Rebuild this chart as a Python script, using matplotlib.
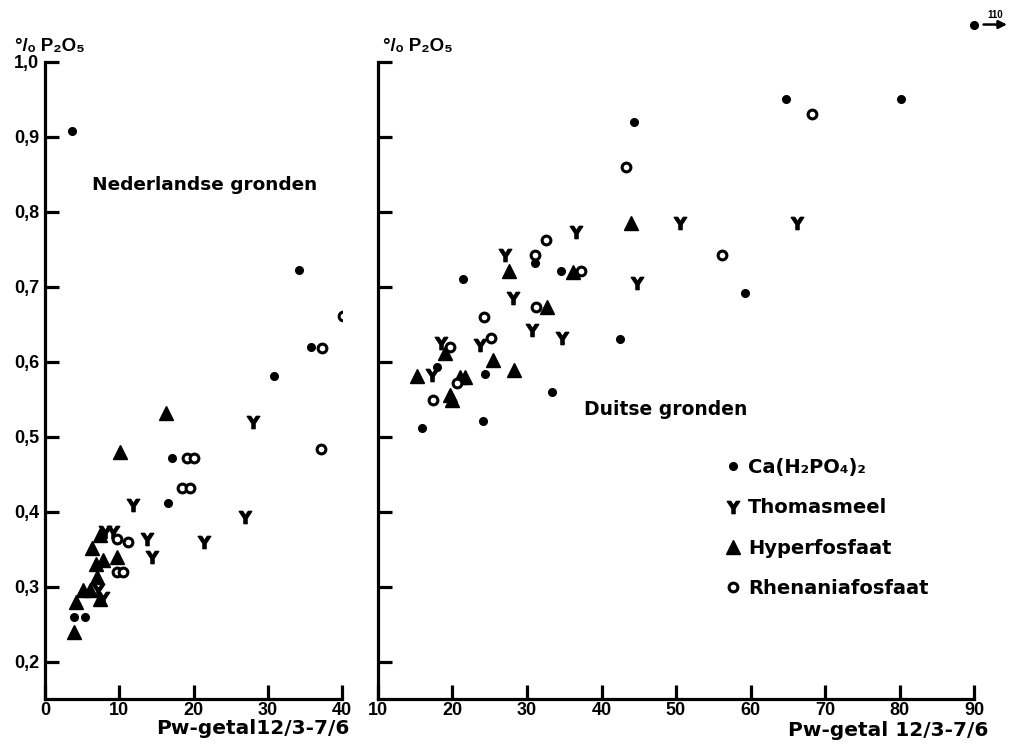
import matplotlib
matplotlib.use("Agg")
import matplotlib.pyplot as plt
from matplotlib.lines import Line2D

plt.rcParams['font.family'] = ['Liberation Sans', 'DejaVu Sans']
plt.rcParams['font.weight'] = 'bold'

# ---------------- data ----------------
y_ticks = [0.2, 0.3, 0.4, 0.5, 0.6, 0.7, 0.8, 0.9, 1.0]
y_tick_labels = ['0,2', '0,3', '0,4', '0,5', '0,6', '0,7', '0,8', '0,9', '1,0']
xL_ticks = [0, 10, 20, 30, 40]
xR_ticks = [10, 20, 30, 40, 50, 60, 70, 80, 90]

# Nederlandse gronden (left panel)
nl_ca_x = [3.6, 34.2, 35.8, 30.9, 17.1, 16.6, 3.9, 5.4]
nl_ca_y = [0.908, 0.723, 0.62, 0.581, 0.471, 0.411, 0.26, 0.26]
nl_th_x = [28.0, 11.9, 27.0, 21.4, 13.7, 14.4, 8.1, 9.2, 7.8, 7.1]
nl_th_y = [0.519, 0.409, 0.393, 0.359, 0.363, 0.339, 0.373, 0.373, 0.285, 0.296]
nl_hy_x = [16.3, 10.1, 3.9, 4.2, 5.1, 6.1, 7.0, 7.4, 6.3, 7.4, 7.8, 9.7, 6.9]
nl_hy_y = [0.532, 0.48, 0.24, 0.279, 0.296, 0.296, 0.313, 0.283, 0.352, 0.369, 0.336, 0.339, 0.33]
nl_rh_x = [40.2, 37.3, 37.2, 19.1, 20.0, 18.5, 19.5, 11.2, 9.7, 9.7, 10.5]
nl_rh_y = [0.661, 0.619, 0.483, 0.471, 0.472, 0.432, 0.432, 0.359, 0.363, 0.319, 0.32]

# Duitse gronden (right panel)
de_ca_x = [64.8, 80.2, 44.4, 31.1, 34.5, 21.4, 42.5, 59.3, 17.9, 24.4, 33.4, 24.1, 15.9]
de_ca_y = [0.951, 0.951, 0.92, 0.732, 0.721, 0.71, 0.631, 0.692, 0.593, 0.584, 0.559, 0.521, 0.511]
de_th_x = [50.6, 66.3, 36.6, 27.1, 44.8, 28.1, 30.7, 34.7, 23.7, 18.5, 17.3]
de_th_y = [0.785, 0.785, 0.773, 0.743, 0.705, 0.685, 0.643, 0.632, 0.623, 0.625, 0.583]
de_hy_x = [43.9, 27.6, 36.2, 32.7, 19.0, 25.5, 28.3, 15.2, 21.7, 21.0, 19.7, 19.9]
de_hy_y = [0.785, 0.721, 0.72, 0.673, 0.612, 0.603, 0.589, 0.581, 0.58, 0.58, 0.556, 0.549]
de_rh_x = [68.3, 43.3, 32.6, 31.1, 37.3, 31.2, 24.2, 25.2, 19.7, 20.6, 17.4, 56.2]
de_rh_y = [0.931, 0.86, 0.763, 0.743, 0.721, 0.673, 0.66, 0.632, 0.62, 0.571, 0.549, 0.743]

# off-scale point (Pw = 110)
off_x_label = '110'
off_y = 1.05

legend_labels = ['Ca(H₂PO₄)₂', 'Thomasmeel', 'Hyperfosfaat', 'Rhenaniafosfaat']

# ---------------- styles ----------------
wide = ['DejaVu Sans']
ca_kw = dict(linestyle='none', marker='o', markersize=5.5, color='black')
th_kw = dict(linestyle='none', marker=r'$\mathbf{Y}$', markersize=9, color='black')
hy_kw = dict(linestyle='none', marker='^', markersize=10, color='black')
rh_kw = dict(linestyle='none', marker='o', markersize=6.3, markerfacecolor='white',
             markeredgecolor='black', markeredgewidth=2.2)

fig = plt.figure(figsize=(10.12, 7.46), dpi=100)
axL = fig.add_axes([45 / 1012, 47 / 746, 297 / 1012, 637 / 746])
axR = fig.add_axes([378 / 1012, 47 / 746, 596 / 1012, 637 / 746])

for ax in (axL, axR):
    ax.set_ylim(0.15, 1.0)
    for s in ('top', 'right'):
        ax.spines[s].set_visible(False)
    for s in ('left', 'bottom'):
        ax.spines[s].set_linewidth(2.3)
    ax.tick_params(direction='in', length=10, width=2.3, labelsize=13, pad=4)
    ax.set_yticks(y_ticks)

axL.set_xlim(0, 40)
axL.set_xticks(xL_ticks)
axL.set_xticklabels([str(v) for v in xL_ticks], fontweight='bold')
axL.set_yticklabels(y_tick_labels, fontweight='bold')
axL.tick_params(axis='x', pad=2)

axR.set_xlim(10, 90)
axR.set_xticks(xR_ticks)
axR.set_xticklabels([str(v) for v in xR_ticks], fontweight='bold')
axR.set_yticklabels([])
axR.tick_params(axis='x', pad=2)

for ax, cx, cy, tx, ty, hx, hy, rx, ry in (
        (axL, nl_ca_x, nl_ca_y, nl_th_x, nl_th_y, nl_hy_x, nl_hy_y, nl_rh_x, nl_rh_y),
        (axR, de_ca_x, de_ca_y, de_th_x, de_th_y, de_hy_x, de_hy_y, de_rh_x, de_rh_y)):
    ax.plot(cx, cy, **ca_kw)
    ax.plot(tx, ty, **th_kw)
    ax.plot(hx, hy, **hy_kw)
    ax.plot(rx, ry, **rh_kw)

# off-scale point with arrow
xr_max = axR.get_xlim()[1]
axR.plot([xr_max], [off_y], clip_on=False, **ca_kw)
axR.annotate('', xy=(xr_max + 4.8, off_y), xytext=(xr_max + 0.9, off_y),
             annotation_clip=False,
             arrowprops=dict(arrowstyle='-|>', color='black', lw=1.8, mutation_scale=12))
axR.text(xr_max + 2.8, off_y + 0.006, off_x_label, ha='center', va='bottom',
         fontsize=7, fontweight='bold', clip_on=False)

# annotations
axL.text(6.3, 0.836, 'Nederlandse gronden', ha='left', va='center',
         fontsize=13.3, fontweight='bold', family=wide)
axR.text(37.6, 0.536, 'Duitse gronden', ha='left', va='center',
         fontsize=13.5, fontweight='bold', family=wide)

# y labels
ylab = '°/ₒ P₂O₅'
fig.text(15 / 1012, 1 - 47 / 746, ylab, ha='left', va='center', fontsize=13.5,
         fontweight='bold')
fig.text(383 / 1012, 1 - 47 / 746, ylab, ha='left', va='center', fontsize=13.5,
         fontweight='bold')

# x labels
fig.text(350 / 1012, 1 - 728 / 746, 'Pw-getal12/3-7/6', ha='right', va='center',
         fontsize=14.5, fontweight='bold', family=wide)
fig.text(988 / 1012, 1 - 730 / 746, 'Pw-getal 12/3-7/6', ha='right', va='center',
         fontsize=14.5, fontweight='bold', family=wide)

# legend
handles = [Line2D([], [], **ca_kw), Line2D([], [], **th_kw),
           Line2D([], [], **hy_kw), Line2D([], [], **rh_kw)]
leg = axR.legend(handles, legend_labels, loc='upper left',
                 bbox_to_anchor=((724 - 378) / 596, (699 - 458) / 637),
                 frameon=False, borderpad=0, borderaxespad=0, handlelength=0.9,
                 handletextpad=0.35, labelspacing=1.1,
                 prop={'weight': 'bold', 'size': 14, 'family': wide})

fig.savefig('out.png', dpi=100, facecolor='white')
